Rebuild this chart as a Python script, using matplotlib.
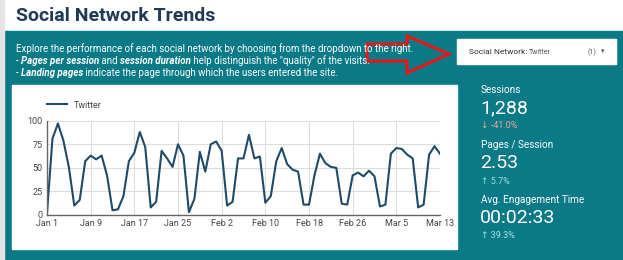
"""
Social Network Trends - dashboard panel (Twitter sessions per day).
"""
import matplotlib
matplotlib.use("Agg")
import matplotlib.pyplot as plt
import matplotlib.patches as mpatches
import pandas as pd

plt.rcParams["font.family"] = ["Roboto", "DejaVu Sans"]

# dane
dates = pd.date_range("2024-01-01", "2024-03-13", freq="D")
twitter = [
    2, 81, 97, 79, 51, 10, 16, 57, 63, 59, 63, 42, 5, 6, 20, 57, 66, 88, 72, 8,
    14, 68, 60, 51, 75, 63, 3, 17, 67, 46, 75, 78, 68, 10, 14, 60, 60, 85, 60, 62,
    13, 20, 57, 71, 54, 48, 46, 11, 11, 42, 65, 55, 51, 50, 12, 11, 42, 45, 41, 47,
    41, 9, 11, 65, 71, 70, 64, 60, 8, 11, 64, 73, 65,
]
tick_labels = ["Jan 1", "Jan 9", "Jan 17", "Jan 25", "Feb 2", "Feb 10",
               "Feb 18", "Feb 26", "Mar 5", "Mar 13"]
kpi_names = ["Sessions", "Pages / Session", "Avg. Engagement Time"]
kpi_values = ["1,288", "2.53", "00:02:33"]
kpi_deltas = ["\u2193 -41.0%", "\u2191 5.7%", "\u2191 39.3%"]
kpi_up = [False, True, True]

# opis: (tekst, pogrubiona kursywa?)
desc_lines = [
    [("Explore the performance of each social network by choosing from the "
      "dropdown to the right.", False)],
    [("- ", False), ("Pages per session", True), (" and ", False),
     ("session duration", True),
     (" help distinguish the \"quality\" of the visits.", False)],
    [("- ", False), ("Landing pages", True),
     (" indicate the page through which the users entered the site.", False)],
]

TEAL = "#0a7a87"
NAVY = "#1f3a56"
LINE = "#1f4a68"

W, H = 623, 260
fig = plt.figure(figsize=(W / 100, H / 100), dpi=100)
renderer = fig.canvas.get_renderer()

# tło w pikselach
bg = fig.add_axes([0, 0, 1, 1])
bg.set_xlim(0, W)
bg.set_ylim(H, 0)
bg.axis("off")
bg.add_patch(mpatches.Rectangle((0, 31), W, H - 31, color=TEAL))
bg.add_patch(mpatches.Rectangle((0, 0), 4, H, color="#e4e4e4"))
bg.add_patch(mpatches.Rectangle((12, 85), 445, 164, color="white"))

bg.text(16, 16, "Social Network Trends", fontsize=14, fontweight="bold",
        color=NAVY, va="center", ha="left")

for i, parts in enumerate(desc_lines):
    x = 16
    for txt, strong in parts:
        t = bg.text(x, 49 + i * 12, txt, fontsize=7, color="white",
                    va="center", ha="left",
                    fontweight="bold" if strong else "normal",
                    fontstyle="italic" if strong else "normal")
        x = t.get_window_extent(renderer).x1

# dropdown
bg.add_patch(mpatches.Rectangle((457, 39), 159, 25, color="white"))
bg.text(469, 52, "Social Network:", fontsize=6, color="#333333",
        va="center", ha="left")
bg.text(529, 52, "Twitter", fontsize=5, color="#555555", va="center", ha="left")
bg.text(588, 52, "(1)", fontsize=5, color="#555555", va="center", ha="left")
bg.text(603, 52, "\u25be", fontsize=5, color="#555555", va="center", ha="center")

# strzałka
arrow = [(367, 44), (407, 44), (407, 36), (449, 54), (407, 73), (407, 61), (367, 61)]
bg.add_patch(mpatches.Polygon(arrow, closed=True, fill=False,
                              edgecolor="#e8161b", linewidth=2.2))

# KPI
for i, (name, val, delta, up) in enumerate(zip(kpi_names, kpi_values, kpi_deltas, kpi_up)):
    y0 = 90 + i * 55
    bg.text(481, y0, name, fontsize=7.2, color="white", va="center", ha="left")
    bg.text(480, y0 + 18, val, fontsize=14, color="white", va="center", ha="left")
    bg.text(481, y0 + 36, delta, fontsize=6.5, va="center", ha="left",
            color="#a8e0e0" if up else "#f2a897")

# wykres
ax = fig.add_axes([47 / W, (H - 215) / H, 393 / W, 94.3 / H])
ax.plot(dates, twitter, color=LINE, linewidth=1.5, label="Twitter")
ax.set_xlim(dates[0], dates[-1])
ax.set_ylim(0, 100)
ax.set_yticks([0, 25, 50, 75, 100])
ticks = pd.date_range(dates[0], dates[-1], freq="8D")
ax.set_xticks(ticks)
ax.set_xticklabels(tick_labels)
ax.tick_params(labelsize=6.5, colors="#444444", length=0, pad=3)
ax.grid(True, color="#dddddd", linewidth=0.8)
ax.set_axisbelow(True)
for side in ["top", "right"]:
    ax.spines[side].set_visible(False)
for side in ["left", "bottom"]:
    ax.spines[side].set_color("#666666")
    ax.spines[side].set_linewidth(1)
ax.legend(loc="lower left", bbox_to_anchor=(-0.01, 1.08), frameon=False,
          fontsize=6.5, handlelength=2.2, borderaxespad=0, labelcolor="#444444")

fig.savefig("out.png", dpi=100)
